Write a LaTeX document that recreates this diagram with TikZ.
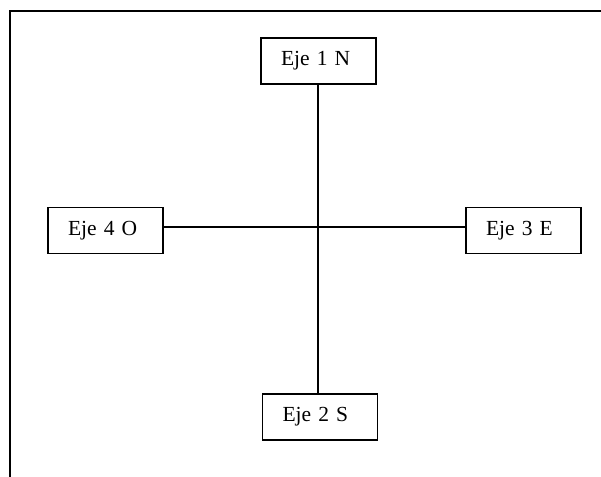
\documentclass[tikz,border=0pt]{standalone}
\usepackage{fontspec}
\setmainfont[WordSpace=0.8]{Liberation Serif}
\begin{document}
\begin{tikzpicture}[x=1pt,y=-1pt,
  ejebox/.style={draw=black, line width=1.5pt, fill=white, text width=75pt, align=left,
    inner xsep=20pt, inner ysep=0pt, minimum height=46pt,
    font=\fontsize{21.5}{24}\selectfont},
  conn/.style={draw=black, line width=1.5pt}]
\useasboundingbox (0,0) rectangle (601,476);
\fill[white] (0,0) rectangle (601,476);
\draw[line width=2pt] (10,480) -- (10,11) -- (605,11);
\coordinate (c) at (318,227);
\node[ejebox] (n1) at (318.5,61) {Eje 1 N};
\node[ejebox] (n4) at (105.5,230.5) {Eje 4 O};
\node[ejebox] (n3) at (523.5,230.5) {Eje 3 E};
\node[ejebox] (n2) at (320,417) {Eje 2 S};
\draw[conn] (n1.south -| c) -- (n2.north -| c);
\draw[conn] (n4.east |- c) -- (n3.west |- c);
\end{tikzpicture}
\end{document}
